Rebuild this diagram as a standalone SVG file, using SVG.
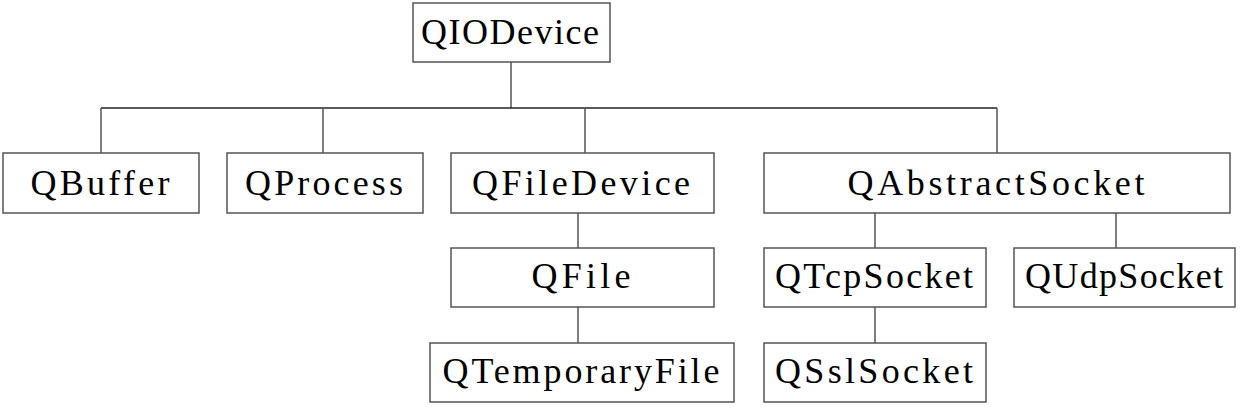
<svg xmlns="http://www.w3.org/2000/svg" width="1247" height="410" viewBox="0 0 1247 410">
<style>
.box{fill:#fff;stroke:#555;stroke-width:1.5}
.lbl{font-family:"Liberation Serif","DejaVu Serif",serif;font-size:36px;fill:#000;text-anchor:middle}
.conn{stroke:#555;stroke-width:1.5;fill:none}
.bar{stroke:#222;stroke-width:1.5;fill:none}
</style>
<rect width="1247" height="410" fill="#fff"/>
<g id="connectors">
<line class="conn" x1="511" y1="62" x2="511" y2="108"/>
<line class="bar" x1="101" y1="108" x2="997" y2="108"/>
<line class="conn" x1="101" y1="108" x2="101" y2="153"/>
<line class="conn" x1="323" y1="108" x2="323" y2="153"/>
<line class="conn" x1="585" y1="108" x2="585" y2="153"/>
<line class="conn" x1="997" y1="108" x2="997" y2="153"/>
<line class="conn" x1="578" y1="213" x2="578" y2="248"/>
<line class="conn" x1="578" y1="307" x2="578" y2="343"/>
<line class="conn" x1="875" y1="213" x2="875" y2="248"/>
<line class="conn" x1="1116" y1="213" x2="1116" y2="248"/>
<line class="conn" x1="875" y1="307" x2="875" y2="343"/>
</g>
<g id="QIODevice"><rect class="box" x="413" y="3" width="197" height="59"/><text class="lbl" x="510" y="44" textLength="178" lengthAdjust="spacing">QIODevice</text></g>
<g id="QBuffer"><rect class="box" x="3" y="153" width="196" height="60"/><text class="lbl" x="100" y="195" textLength="139" lengthAdjust="spacing">QBuffer</text></g>
<g id="QProcess"><rect class="box" x="227" y="153" width="196" height="60"/><text class="lbl" x="324" y="195" textLength="158" lengthAdjust="spacing">QProcess</text></g>
<g id="QFileDevice"><rect class="box" x="451" y="153" width="263" height="60"/><text class="lbl" x="581" y="195" textLength="218" lengthAdjust="spacing">QFileDevice</text></g>
<g id="QAbstractSocket"><rect class="box" x="764" y="153" width="466" height="60"/><text class="lbl" x="996" y="195" textLength="297" lengthAdjust="spacing">QAbstractSocket</text></g>
<g id="QFile"><rect class="box" x="451" y="248" width="263" height="59"/><text class="lbl" x="581" y="288" textLength="99" lengthAdjust="spacing">QFile</text></g>
<g id="QTcpSocket"><rect class="box" x="764" y="248" width="222" height="59"/><text class="lbl" x="874" y="288" textLength="198" lengthAdjust="spacing">QTcpSocket</text></g>
<g id="QUdpSocket"><rect class="box" x="1014" y="248" width="221" height="59"/><text class="lbl" x="1124" y="288" textLength="198" lengthAdjust="spacing">QUdpSocket</text></g>
<g id="QTemporaryFile"><rect class="box" x="430" y="343" width="304" height="59"/><text class="lbl" x="581" y="383" textLength="277" lengthAdjust="spacing">QTemporaryFile</text></g>
<g id="QSslSocket"><rect class="box" x="764" y="343" width="222" height="59"/><text class="lbl" x="874" y="383" textLength="198" lengthAdjust="spacing">QSslSocket</text></g>
</svg>
